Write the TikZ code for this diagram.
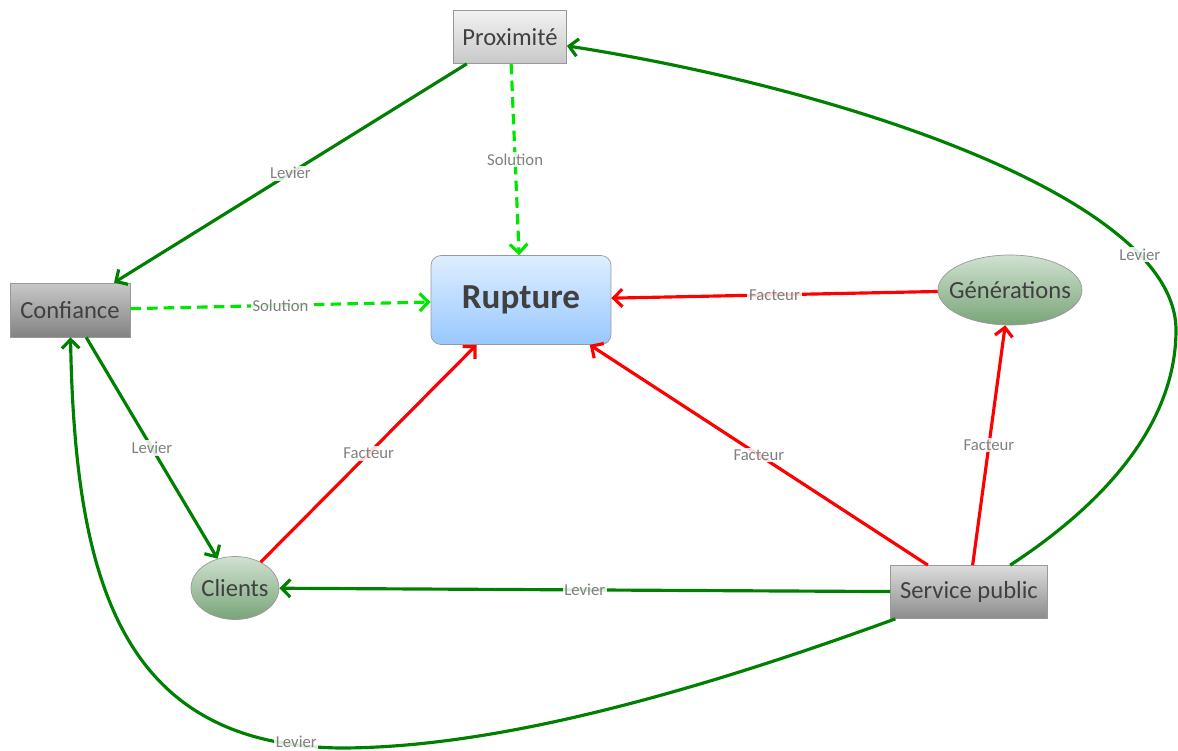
\documentclass[tikz,border=0pt]{standalone}
\usepackage{fontspec}
\setmainfont{Carlito}
\usetikzlibrary{arrows.meta, shapes.geometric}
\definecolor{vertfonce}{RGB}{0,128,0}
\definecolor{vertclair}{RGB}{0,230,0}
\definecolor{texte}{RGB}{64,64,64}
\definecolor{libelle}{RGB}{128,128,128}
\tikzstyle{fleche} = [-{Straight Barb[length=5pt,width=10pt]},line width=1.8pt,draw=vertfonce]
\tikzstyle{fleche2} = [-{Straight Barb[length=5pt,width=10pt]},line width=1.8pt,draw=vertclair,dash pattern=on 6pt off 3.5pt]
\tikzstyle{fleche3} = [-{Straight Barb[length=5pt,width=10pt]},line width=1.8pt,draw=red]
\tikzstyle{etiquette} = [fill=white,fill opacity=0.85,text opacity=1,text=libelle,inner sep=1pt,font=\fontsize{9.5}{11}\selectfont]
\tikzstyle{boite} = [rectangle,draw=gray!80,text=texte,font=\fontsize{14}{16}\selectfont,inner sep=0pt]
\tikzstyle{bulle} = [ellipse,draw=gray!80,text=texte,font=\fontsize{14}{16}\selectfont,inner sep=0pt,top color={rgb,255:red,208;green,225;blue,208},bottom color={rgb,255:red,120;green,165;blue,120}]

\begin{document}
\begin{tikzpicture}[x=0.02cm,y=-0.02cm]

	\useasboundingbox (0,0) rectangle (1178,751);

	\node[boite,minimum width=2.26cm,minimum height=1.06cm,top color={rgb,255:red,242;green,242;blue,242},bottom color={rgb,255:red,200;green,200;blue,200}] (prox) at (510,37) {Proximité};

	\node[boite,minimum width=2.4cm,minimum height=1.08cm,top color={rgb,255:red,200;green,200;blue,200},bottom color={rgb,255:red,130;green,130;blue,130}] (conf) at (70,310) {Confiance};

	\node[boite,minimum width=3.14cm,minimum height=1.06cm,top color={rgb,255:red,220;green,220;blue,220},bottom color={rgb,255:red,140;green,140;blue,140}] (sp) at (969,592) {Service public};

	\node[boite,rounded corners=0.2cm,minimum width=3.6cm,minimum height=1.78cm,top color={rgb,255:red,222;green,238;blue,255},bottom color={rgb,255:red,152;green,200;blue,255},font=\fontsize{20}{24}\selectfont\bfseries] (rup) at (521,300) {Rupture};

	\node[bulle,minimum width=2.88cm,minimum height=1.4cm] (gen) at (1010,290) {\makebox[0pt]{Générations}};
	\node[bulle,minimum width=1.76cm,minimum height=1.26cm] (cli) at (235,588) {\makebox[0pt]{Clients}};

	% leviers
	\draw[fleche] (prox) -- node[etiquette] {Levier} (conf);
	\draw[fleche] (conf) -- node[etiquette] {Levier} (cli);
	\draw[fleche] (sp) -- node[etiquette] {Levier} (cli);
	\draw[fleche] (sp) .. controls (1110,500) and (1176,420) .. (1176,330)
		.. controls (1176,200) and (850,90) .. node[etiquette,pos=0.2] {Levier} (prox);
	\draw[fleche] (sp) .. controls (700,690) and (500,748) .. (340,748)
		.. controls (120,745) and (75,580) .. node[etiquette,pos=0.07,yshift=2pt] {Levier} (conf);

	% solutions
	\draw[fleche2] (prox) -- node[etiquette] {Solution} (rup);
	\draw[fleche2] (conf) -- node[etiquette] {Solution} (rup);

	% facteurs
	\draw[fleche3] (gen) -- node[etiquette] {Facteur} (rup);
	\draw[fleche3] (sp) -- node[etiquette] {Facteur} (gen);
	\draw[fleche3] (sp) -- node[etiquette] {Facteur} (rup);
	\draw[fleche3] (cli) -- node[etiquette] {Facteur} (rup);

\end{tikzpicture}
\end{document}
